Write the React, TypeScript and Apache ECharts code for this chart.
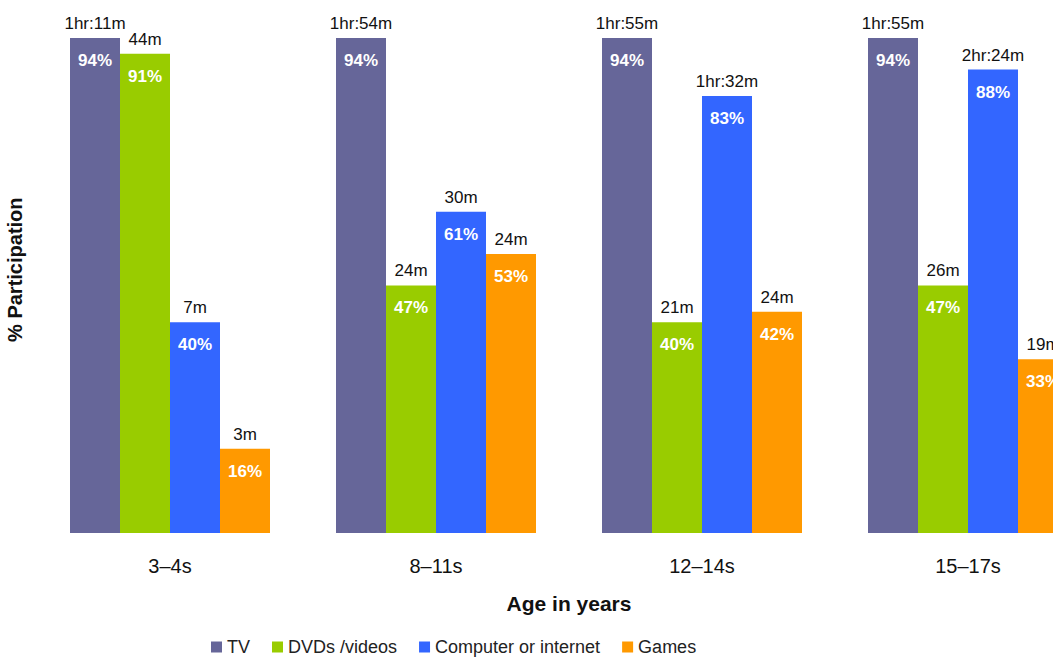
import React, { useEffect, useRef } from "react";
import * as echarts from "echarts";

const categories = ["3–4s", "8–11s", "12–14s", "15–17s"];
const seriesNames = ["TV", "DVDs /videos", "Computer or internet", "Games"];
const tvPct = [94, 94, 94, 94];
const dvdPct = [91, 47, 40, 47];
const compPct = [40, 61, 83, 88];
const gamesPct = [16, 53, 42, 33];
const tvTime = ["1hr:11m", "1hr:54m", "1hr:55m", "1hr:55m"];
const dvdTime = ["44m", "24m", "21m", "26m"];
const compTime = ["7m", "30m", "1hr:32m", "2hr:24m"];
const gamesTime = ["3m", "24m", "24m", "19m"];
const colors = ["#666699", "#99CC00", "#3366FF", "#FF9900"];

const FONT = "'Liberation Sans', Arial, sans-serif";

export default function App() {
  const ref = useRef<HTMLDivElement>(null);
  useEffect(() => {
    if (!ref.current) return;
    const chart = echarts.init(ref.current, null, { renderer: "svg" });
    const pcts = [tvPct, dvdPct, compPct, gamesPct];
    const times = [tvTime, dvdTime, compTime, gamesTime];
    const main = pcts.map((d, i) => ({
      name: seriesNames[i],
      type: "bar",
      xAxisIndex: 0,
      yAxisIndex: 0,
      data: d,
      barWidth: 50,
      barGap: "0%",
      itemStyle: { color: colors[i] },
      label: {
        show: true,
        position: "insideTop",
        distance: 14,
        formatter: (p: any) => p.value + "%",
        color: "#ffffff",
        fontWeight: "bold",
        fontSize: 17,
        fontFamily: FONT,
      },
      silent: true,
    }));
    const timeSeries = pcts.map((d, i) => ({
      name: "time" + i,
      type: "bar",
      xAxisIndex: 1,
      yAxisIndex: 0,
      data: d,
      barWidth: 50,
      barGap: "0%",
      itemStyle: { color: "rgba(0,0,0,0)" },
      label: {
        show: true,
        position: "top",
        distance: 6,
        formatter: (p: any) => times[i][p.dataIndex],
        color: "#111111",
        fontSize: 17,
        fontFamily: FONT,
      },
      silent: true,
    }));
    chart.setOption({
      animation: false,
      textStyle: { fontFamily: FONT },
      grid: {
        left: 37,
        right: -48,
        top: 6.4,
        bottom: 126,
        containLabel: false,
        outerBoundsMode: "none",
      },
      legend: {
        data: seriesNames,
        left: 206,
        top: 633,
        icon: "rect",
        itemWidth: 11,
        itemHeight: 11,
        itemGap: 22,
        textStyle: { fontSize: 18, color: "#222222", fontFamily: FONT },
      },
      xAxis: [
        {
          type: "category",
          data: categories,
          axisLine: { show: false },
          axisTick: { show: false },
          axisLabel: { margin: 23, fontSize: 20, color: "#111111", fontFamily: FONT },
          name: "Age in years",
          nameLocation: "middle",
          nameGap: 60,
          nameTextStyle: { fontSize: 21, fontWeight: "bold", color: "#111111", fontFamily: FONT },
        },
        {
          type: "category",
          data: categories,
          show: false,
        },
      ],
      yAxis: {
        type: "value",
        min: 0,
        max: 100,
        axisLine: { show: false },
        axisTick: { show: false },
        axisLabel: { show: false },
        splitLine: { show: false },
        name: "% Participation",
        nameLocation: "middle",
        nameGap: 12,
        nameRotate: 90,
        nameTextStyle: { fontSize: 20, fontWeight: "bold", color: "#111111", fontFamily: FONT },
      },
      series: [...main, ...timeSeries],
    });
    return () => chart.dispose();
  }, []);
  return (
    <div
      ref={ref}
      style={{ position: "absolute", left: 0, top: 0, width: 1053, height: 659 }}
    />
  );
}
